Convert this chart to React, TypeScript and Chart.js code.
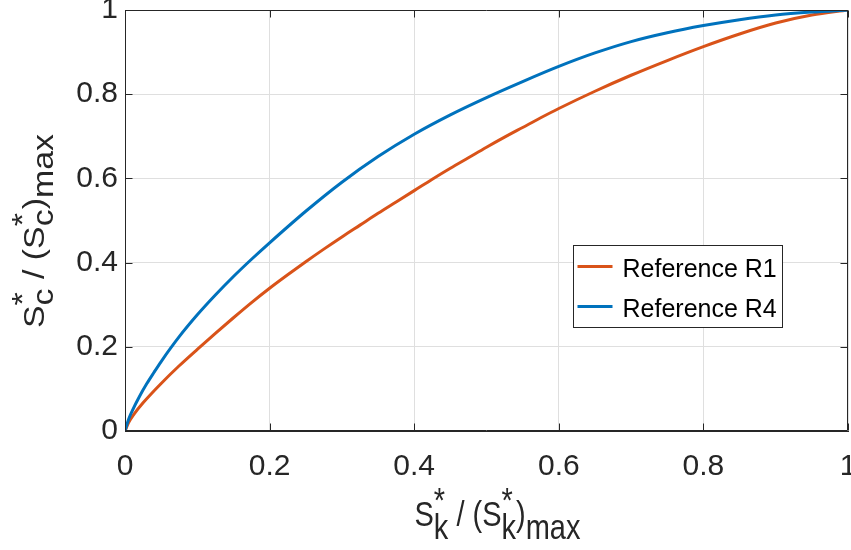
import { useEffect, useRef } from 'react';
import { Chart, registerables } from 'chart.js';

Chart.register(...registerables);

// ---- data ----
const r1X = [0, 0.005, 0.0125, 0.025, 0.05, 0.075, 0.1, 0.125, 0.15, 0.175, 0.2, 0.225, 0.25, 0.275, 0.3, 0.325, 0.35, 0.375, 0.4, 0.425, 0.45, 0.475, 0.5, 0.525, 0.55, 0.575, 0.6, 0.65, 0.7, 0.75, 0.8, 0.85, 0.9, 0.95, 1];
const r1Y = [0, 0.02, 0.04, 0.067, 0.113, 0.155, 0.194, 0.232, 0.269, 0.305, 0.339, 0.371, 0.402, 0.432, 0.461, 0.489, 0.517, 0.544, 0.571, 0.598, 0.624, 0.649, 0.674, 0.698, 0.721, 0.744, 0.766, 0.807, 0.845, 0.88, 0.913, 0.943, 0.969, 0.988, 1];

const r4X = [0, 0.005, 0.01, 0.02, 0.03, 0.04, 0.05, 0.075, 0.1, 0.125, 0.15, 0.175, 0.2, 0.25, 0.3, 0.35, 0.4, 0.45, 0.5, 0.55, 0.6, 0.65, 0.7, 0.75, 0.8, 0.85, 0.9, 0.95, 1];
const r4Y = [0, 0.028, 0.048, 0.082, 0.112, 0.139, 0.165, 0.224, 0.276, 0.323, 0.367, 0.408, 0.447, 0.522, 0.591, 0.652, 0.705, 0.751, 0.792, 0.83, 0.866, 0.898, 0.925, 0.946, 0.963, 0.977, 0.988, 0.995, 1];

const seriesNames = ['Reference R1', 'Reference R4'];
const seriesColors = ['#D95319', '#0072BD'];

const xTickValues = [0, 0.2, 0.4, 0.6, 0.8, 1];
const xTickLabels = ['0', '0.2', '0.4', '0.6', '0.8', '1'];
const yTickValues = [0, 0.2, 0.4, 0.6, 0.8, 1];
const yTickLabels = ['0', '0.2', '0.4', '0.6', '0.8', '1'];

// axis titles as rich-text parts: S^*_k / (S^*_k)_max
const xTitleParts = [{ t: 'S' }, { sup: '*', sub: 'k' }, { t: ' / (' }, { t: 'S' }, { sup: '*', sub: 'k' }, { t: ')' }, { sub: 'max' }];
const yTitleParts = [{ t: 'S' }, { sup: '*', sub: 'c' }, { t: ' / (' }, { t: 'S' }, { sup: '*', sub: 'c' }, { t: ')' }, { sub: 'max' }];

const FONT = '"Liberation Sans", Arial, Helvetica, sans-serif';
const TEXT = '#262626';
const AXIS = '#262626';
const GRID = '#dfdfdf';

type Part = { t?: string; sup?: string; sub?: string };

function richWidth(ctx: CanvasRenderingContext2D, parts: Part[]) {
  let w = 0;
  for (const p of parts) {
    if (p.t !== undefined) w += ctx.measureText(p.t).width;
    else w += Math.max(p.sup ? ctx.measureText(p.sup).width : 0, p.sub ? ctx.measureText(p.sub).width : 0);
  }
  return w;
}

function drawRich(ctx: CanvasRenderingContext2D, parts: Part[], x0: number, supShift: number, subShift: number) {
  let x = x0;
  for (const p of parts) {
    if (p.t !== undefined) {
      ctx.fillText(p.t, x, 0);
      x += ctx.measureText(p.t).width;
    } else {
      let w = 0;
      if (p.sup) { ctx.fillText(p.sup, x, -supShift); w = Math.max(w, ctx.measureText(p.sup).width); }
      if (p.sub) { ctx.fillText(p.sub, x, subShift); w = Math.max(w, ctx.measureText(p.sub).width); }
      x += w;
    }
  }
}

const decorPlugin = {
  id: 'decor',
  afterDraw(chart: any) {
    const ctx: CanvasRenderingContext2D = chart.ctx;
    const ca = chart.chartArea;
    const xs = chart.scales.x;
    const ys = chart.scales.y;
    const L = Math.round(ca.left) + 0.5;
    const R = Math.round(ca.right) - 0.5;
    const T = Math.round(ca.top) + 0.5;
    const B = Math.round(ca.bottom) - 0.5;
    ctx.save();
    // frame
    ctx.strokeStyle = AXIS;
    ctx.lineWidth = 1;
    ctx.beginPath();
    ctx.rect(L, T, R - L, B - T);
    ctx.stroke();
    // inward ticks
    const tl = 7;
    ctx.beginPath();
    for (const v of xTickValues) {
      const px = Math.round(xs.getPixelForValue(v)) + 0.5;
      ctx.moveTo(px, B); ctx.lineTo(px, B - tl);
      ctx.moveTo(px, T); ctx.lineTo(px, T + tl);
    }
    for (const v of yTickValues) {
      const py = Math.round(ys.getPixelForValue(v)) + 0.5;
      ctx.moveTo(L, py); ctx.lineTo(L + tl, py);
      ctx.moveTo(R, py); ctx.lineTo(R - tl, py);
    }
    ctx.stroke();

    // axis titles
    ctx.fillStyle = TEXT;
    ctx.textBaseline = 'alphabetic';
    ctx.textAlign = 'left';
    ctx.font = `29px ${FONT}`;
    // x title
    {
      const w = richWidth(ctx, xTitleParts);
      const cx = (ca.left + ca.right) / 2 + 11;
      ctx.save();
      ctx.translate(cx, 526);
      ctx.scale(1, 1.18);
      drawRich(ctx, xTitleParts, -w / 2, 12, 11);
      ctx.restore();
    }
    // y title
    {
      const w = richWidth(ctx, yTitleParts);
      const cy = (ca.top + ca.bottom) / 2 + 10.5;
      ctx.save();
      ctx.translate(43.5, cy);
      ctx.rotate(-Math.PI / 2);
      ctx.scale(1.17, 1);
      drawRich(ctx, yTitleParts, -w / 2, 12, 9);
      ctx.restore();
    }

    // legend
    ctx.font = `25px ${FONT}`;
    const textW = Math.max(...seriesNames.map((n) => ctx.measureText(n).width));
    const boxW = Math.round(4 + 35 + 10 + textW + 6);
    const boxR = Math.round(ca.left + 0.909 * (ca.right - ca.left)) + 0.5;
    const boxT = Math.round(ca.top + 0.558 * (ca.bottom - ca.top)) + 0.5;
    const boxL = boxR - boxW;
    const boxH = 82;
    ctx.fillStyle = '#ffffff';
    ctx.fillRect(boxL, boxT, boxW, boxH);
    ctx.strokeStyle = AXIS;
    ctx.lineWidth = 1;
    ctx.strokeRect(boxL, boxT, boxW, boxH);
    seriesNames.forEach((name, i) => {
      const ly = boxT + 21 + i * 40;
      ctx.strokeStyle = seriesColors[i];
      ctx.lineWidth = 3;
      ctx.beginPath();
      ctx.moveTo(boxL + 4, ly);
      ctx.lineTo(boxL + 39, ly);
      ctx.stroke();
      ctx.fillStyle = '#000000';
      ctx.textBaseline = 'middle';
      ctx.fillText(name, boxL + 49, ly + 4);
    });
    ctx.restore();
  },
};

function lookup(values: number[], labels: string[], v: number) {
  const i = values.findIndex((t) => Math.abs(t - v) < 1e-9);
  return i >= 0 ? labels[i] : '';
}

export default function App() {
  const ref = useRef<HTMLCanvasElement>(null);
  useEffect(() => {
    const canvas = ref.current!;
    const chart = new Chart(canvas, {
      type: 'line',
      data: {
        datasets: [
          {
            label: seriesNames[0],
            data: r1X.map((x, i) => ({ x, y: r1Y[i] })),
            borderColor: seriesColors[0],
            backgroundColor: seriesColors[0],
            borderWidth: 3,
            pointRadius: 0,
            cubicInterpolationMode: 'monotone',
            fill: false,
            order: 2,
          },
          {
            label: seriesNames[1],
            data: r4X.map((x, i) => ({ x, y: r4Y[i] })),
            borderColor: seriesColors[1],
            backgroundColor: seriesColors[1],
            borderWidth: 3,
            pointRadius: 0,
            cubicInterpolationMode: 'monotone',
            fill: false,
            order: 1,
          },
        ],
      },
      options: {
        animation: false,
        responsive: false,
        devicePixelRatio: 1,
        layout: { padding: { top: 10, right: 3, left: 0, bottom: 0 } },
        plugins: { legend: { display: false }, tooltip: { enabled: false } },
        scales: {
          x: {
            type: 'linear',
            min: 0,
            max: 1,
            afterBuildTicks: (s: any) => { s.ticks = xTickValues.map((v) => ({ value: v })); },
            afterFit: (s: any) => { s.height = 119; s.paddingLeft = 0; s.paddingRight = 0; },
            ticks: {
              callback: (v: any) => lookup(xTickValues, xTickLabels, Number(v)),
              font: { family: FONT, size: 30 },
              color: TEXT,
              padding: 18,
              maxRotation: 0,
              autoSkip: false,
            },
            grid: { color: GRID, drawTicks: false, lineWidth: 1 },
            border: { display: true, color: AXIS },
          },
          y: {
            type: 'linear',
            min: 0,
            max: 1,
            afterBuildTicks: (s: any) => { s.ticks = yTickValues.map((v) => ({ value: v })); },
            afterFit: (s: any) => { s.width = 125; s.paddingTop = 0; s.paddingBottom = 0; },
            ticks: {
              callback: (v: any) => lookup(yTickValues, yTickLabels, Number(v)),
              font: { family: FONT, size: 30 },
              color: TEXT,
              padding: 7,
              autoSkip: false,
            },
            grid: { color: GRID, drawTicks: false, lineWidth: 1 },
            border: { display: true, color: AXIS },
          },
        },
      } as any,
      plugins: [decorPlugin],
    });
    return () => chart.destroy();
  }, []);
  return (
    <div style={{ position: 'fixed', left: 0, top: 0, width: 851, height: 550, background: '#ffffff' }}>
      <canvas ref={ref} width={851} height={550} style={{ display: 'block', width: 851, height: 550 }} />
    </div>
  );
}
